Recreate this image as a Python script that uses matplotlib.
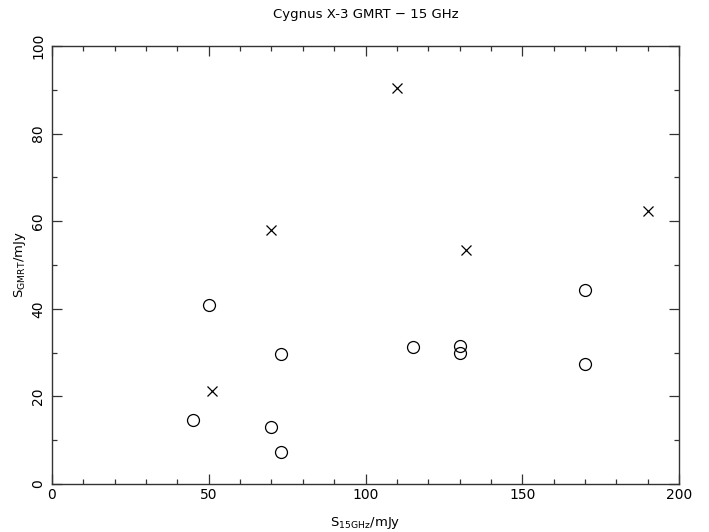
import matplotlib
matplotlib.use("Agg")
import matplotlib.pyplot as plt
from matplotlib.ticker import MultipleLocator

# Data
circle_x = [45, 50, 70, 73, 73, 115, 130, 130, 170, 170]
circle_y = [14.6, 40.9, 13.1, 7.2, 29.7, 31.2, 31.5, 29.8, 44.2, 27.5]
cross_x = [51, 70, 110, 132, 190]
cross_y = [21.2, 58.0, 90.3, 53.5, 62.4]

title = "Cygnus X-3 GMRT \u2212 15 GHz"
xlabel = "S$_{\\mathregular{15GHz}}$/mJy"
ylabel = "S$_{\\mathregular{GMRT}}$/mJy"

plt.rcParams['font.family'] = ['DejaVu Sans']
fig = plt.figure(figsize=(7.09, 5.32), dpi=100)
ax = fig.add_axes([52/709, 48/532, (679-52)/709, (484-46)/532])

ax.plot(circle_x, circle_y, linestyle='none', marker='o', markersize=8.6,
        markerfacecolor='none', markeredgecolor='black', markeredgewidth=0.9)
ax.plot(cross_x, cross_y, linestyle='none', marker='x', markersize=7,
        color='black', markeredgewidth=0.9)

ax.set_xlim(0, 200)
ax.set_ylim(0, 100)
ax.xaxis.set_major_locator(MultipleLocator(50))
ax.xaxis.set_minor_locator(MultipleLocator(10))
ax.yaxis.set_major_locator(MultipleLocator(20))
ax.yaxis.set_minor_locator(MultipleLocator(10))
ax.tick_params(which='both', direction='in', top=True, right=True,
               width=0.9, colors='#333333', labelcolor='black', labelsize=10)
ax.tick_params(which='major', length=7)
ax.tick_params(which='minor', length=3.5)
ax.tick_params(axis='x', pad=3)
ax.tick_params(axis='y', pad=5)
for lbl in ax.get_yticklabels():
    lbl.set_rotation(90)
    lbl.set_va('center')
for s in ax.spines.values():
    s.set_linewidth(1.0)
    s.set_color('#333333')

ax.set_title(title, fontsize=9.5, pad=20)
ax.set_xlabel(xlabel, fontsize=9.5, labelpad=9)
ax.set_ylabel(ylabel, fontsize=9.5, labelpad=2)

fig.savefig("out.png", dpi=100)
